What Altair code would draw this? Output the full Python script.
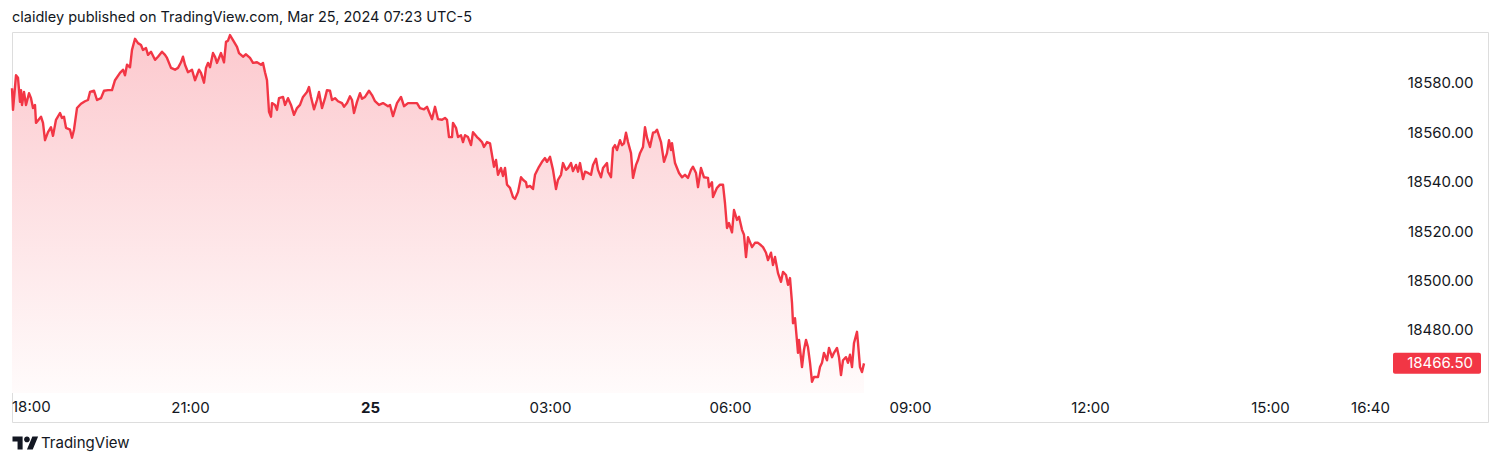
import altair as alt
import pandas as pd

# minutes after 18:00 (Sun 24 Mar 2024) and price
minutes_a = [2, 3, 6, 8, 10, 11, 12, 14, 16, 19, 21, 23, 25, 26, 30, 31, 33, 35, 38, 41, 43, 46, 50, 52, 54, 56,
             60, 62, 64, 67, 71, 75, 78, 80, 84, 87, 91, 94, 98, 102, 105, 110, 113, 115, 117, 120, 122, 125, 128,
             131, 133, 136, 138, 141, 145, 148, 152, 155, 157, 161, 165, 168, 171, 173, 175, 178, 182, 185, 189,
             191, 194, 196, 198, 200, 203, 205, 207, 211, 214, 216, 218, 220, 223, 227, 229, 233, 236, 240, 243,
             247, 251, 253, 255, 257]
prices_a = [18577.75, 18569.0, 18583.0, 18582.0, 18572.25, 18577.0, 18571.0, 18576.25, 18571.0, 18575.75, 18573.75,
            18569.75, 18571.0, 18563.75, 18565.75, 18566.25, 18563.75, 18556.75, 18560.0, 18562.0, 18558.5, 18565.0,
            18567.75, 18565.75, 18566.25, 18561.75, 18561.0, 18557.75, 18561.0, 18569.75, 18571.5, 18572.5, 18573.0,
            18576.25, 18576.75, 18573.0, 18573.75, 18576.75, 18577.0, 18577.0, 18581.0, 18584.0, 18585.25, 18583.0,
            18587.25, 18586.25, 18593.25, 18597.75, 18596.0, 18595.25, 18593.25, 18594.0, 18591.25, 18592.5,
            18589.25, 18590.5, 18592.5, 18591.25, 18590.0, 18586.0, 18585.25, 18586.0, 18588.25, 18590.5, 18587.25,
            18584.25, 18585.25, 18581.0, 18585.25, 18584.0, 18580.0, 18586.0, 18588.0, 18586.25, 18592.0, 18590.5,
            18588.0, 18592.0, 18588.25, 18596.5, 18597.0, 18599.25, 18597.25, 18594.5, 18592.0, 18590.5, 18591.5,
            18590.0, 18588.0, 18588.25, 18587.25, 18588.0, 18584.25, 18581.0]

minutes_b = [259, 261, 262, 265, 267, 269, 273, 275, 278, 281, 284, 287, 290, 293, 297, 299, 301, 304, 307, 309,
             312, 315, 317, 320, 322, 325, 328, 332, 334, 337, 340, 342, 344, 347, 350, 352, 355, 359, 362, 365,
             369, 373, 378, 380, 383, 387, 391, 394, 398, 402, 407, 410, 414, 417, 419, 422, 425, 428, 432]
prices_b = [18568.25, 18566.25, 18571.75, 18571.0, 18569.0, 18573.75, 18574.25, 18571.0, 18573.75, 18571.0,
            18567.0, 18569.75, 18571.0, 18574.25, 18576.25, 18578.25, 18574.25, 18569.25, 18573.0, 18576.25,
            18569.75, 18573.75, 18577.0, 18576.75, 18573.0, 18573.75, 18572.5, 18571.75, 18570.25, 18571.75,
            18574.5, 18573.0, 18567.75, 18572.25, 18575.75, 18573.5, 18574.25, 18576.75, 18575.0, 18572.5,
            18571.0, 18571.75, 18570.5, 18571.0, 18566.5, 18571.75, 18574.25, 18570.5, 18571.75, 18571.75,
            18571.75, 18569.75, 18569.25, 18570.25, 18568.25, 18565.25, 18570.25, 18565.25, 18565.0]

minutes_c = [435, 437, 439, 442, 443, 446, 448, 451, 453, 455, 458, 461, 463, 467, 469, 472, 474, 477, 480, 482,
             484, 486, 488, 491, 493, 495, 497, 500, 503, 505, 508, 511, 513, 516, 517, 520, 523, 525, 529, 532,
             535, 537, 540, 543, 546, 548, 551, 553, 556, 558, 561, 563, 566, 568, 570, 573, 575, 578, 581, 583,
             586, 588, 591, 593, 597, 598, 601, 603, 605, 607, 610, 612, 614, 616, 618, 621, 623, 626, 628, 630,
             633, 635, 637, 640, 643, 645, 647]
prices_c = [18565.75, 18565.0, 18558.0, 18558.0, 18563.75, 18561.75, 18558.0, 18558.75, 18556.0, 18558.75,
            18558.0, 18554.75, 18560.0, 18558.0, 18557.25, 18556.0, 18554.0, 18556.0, 18555.5, 18550.75, 18546.0,
            18548.75, 18542.75, 18545.5, 18542.25, 18545.5, 18538.75, 18537.5, 18533.75, 18533.0, 18535.75,
            18541.75, 18540.75, 18539.75, 18537.75, 18538.25, 18537.0, 18542.75, 18546.0, 18548.0, 18549.5,
            18548.0, 18550.0, 18544.75, 18537.0, 18540.75, 18542.75, 18547.5, 18544.75, 18545.5, 18547.5,
            18544.25, 18546.75, 18544.0, 18547.5, 18541.0, 18544.0, 18543.5, 18542.75, 18546.75, 18549.25,
            18544.75, 18541.75, 18545.5, 18547.5, 18544.0, 18541.75, 18553.5, 18554.75, 18552.75, 18556.75,
            18554.75, 18555.5, 18559.75, 18556.0, 18551.5, 18541.5, 18546.75, 18548.75, 18551.5, 18554.0,
            18562.0, 18557.75, 18554.0, 18559.75, 18560.0, 18561.0]

minutes_d = [651, 654, 657, 659, 661, 662, 665, 667, 669, 672, 675, 678, 681, 683, 686, 688, 691, 694, 698, 699,
             702, 703, 707, 710, 713, 715, 717, 719, 722, 724, 727, 729, 732, 734, 736, 738, 742, 745, 748, 751,
             753, 756, 758, 761, 763, 765, 768, 771, 773, 776, 778, 780, 782, 783, 785, 788, 789, 792, 794, 796,
             798, 800, 802, 804, 808, 810, 812, 814, 817, 819, 822, 824, 827, 829, 831, 833, 836, 838, 840, 842,
             844, 847, 848, 850, 852, 854]
prices_d = [18556.0, 18548.0, 18551.5, 18556.75, 18552.75, 18555.5, 18547.5, 18545.5, 18543.5, 18541.75, 18542.75,
            18541.5, 18544.75, 18546.0, 18543.5, 18537.75, 18545.5, 18541.75, 18541.5, 18537.75, 18539.75,
            18533.75, 18537.5, 18538.75, 18538.75, 18531.25, 18521.25, 18523.25, 18519.5, 18528.5, 18524.5,
            18525.75, 18520.5, 18518.5, 18509.5, 18517.5, 18513.5, 18515.25, 18515.25, 18514.25, 18513.5,
            18511.25, 18508.25, 18511.25, 18506.25, 18509.5, 18503.0, 18499.5, 18503.5, 18502.25, 18498.25,
            18501.0, 18491.0, 18482.75, 18484.75, 18470.75, 18476.0, 18465.0, 18472.0, 18476.0, 18473.0,
            18466.75, 18459.0, 18461.0, 18461.0, 18465.0, 18466.75, 18470.75, 18467.75, 18472.75, 18469.0,
            18470.75, 18472.75, 18469.0, 18461.75, 18467.75, 18469.0, 18466.75, 18470.0, 18465.0, 18474.75,
            18479.25, 18474.75, 18465.0, 18463.0, 18466.5]

price_ticks = [18480, 18500, 18520, 18540, 18560, 18580]
header = "claidley published on TradingView.com, Mar 25, 2024 07:23 UTC-5"
brand = "TradingView"
first_time_label = "18:00"
pane_floor = 18454.5  # price level at the bottom edge of the price pane

minutes = minutes_a + minutes_b + minutes_c + minutes_d
prices = prices_a + prices_b + prices_c + prices_d
base = pd.Timestamp("2024-03-24 18:00")
times = (base + pd.to_timedelta(minutes, unit="m")).strftime("%Y-%m-%dT%H:%M:00Z")
df = pd.DataFrame({"t": times, "price": prices})

last = pd.DataFrame({"price": [prices[-1]], "label": [f"{prices[-1]:.2f}"]})
foot = pd.DataFrame({"label": [brand]})
head = pd.DataFrame({"label": [header]})
first = pd.DataFrame({"t": ["2024-03-24T18:00:00Z"], "label": [first_time_label]})

FONT = "Inter"
TXT = "#131722"
RED = "#f23645"

def dt(d, h, m=0):
    return alt.DateTime(year=2024, month=3, date=d, hours=h, minutes=m, utc=True)

xscale = alt.Scale(type="utc", domain=[dt(24, 18, 2), dt(25, 18, 38)])
yscale = alt.Scale(domain=[18442.79, 18600.5], zero=False, nice=False)

tick_vals = [dt(24, 21), dt(25, 0), dt(25, 3), dt(25, 6), dt(25, 9),
             dt(25, 12), dt(25, 15), dt(25, 16, 40)]

xaxis = alt.Axis(
    values=tick_vals, orient="bottom", offset=-29, domain=False, ticks=False, tickSize=0, grid=False,
    labelPadding=14, labelBaseline="middle", labelOverlap=False,
    labelExpr="utcFormat(datum.value, '%H:%M') == '00:00' ? '25' : utcFormat(datum.value, '%H:%M')",
    labelFontWeight={"condition": {"test": "utchours(datum.value) == 0", "value": "bold"}, "value": "normal"},
    labelFont=FONT, labelFontSize=15, labelColor=TXT, title=None,
)
yaxis = alt.Axis(
    values=price_ticks, orient="right", offset=-100, domain=False, ticks=False, tickSize=0, grid=False,
    labelAlign="right", labelPadding=85, format=".2f", labelFont=FONT, labelFontSize=15,
    labelColor=TXT, title=None,
)

grad = alt.Gradient(
    gradient="linear",
    stops=[alt.GradientStop(color="#fcc9ce", offset=0),
           alt.GradientStop(color="#fffbfb", offset=1)],
    x1=0, x2=0, y1=0, y2=1,
)

area = alt.Chart(df).mark_area(fill=grad, interpolate="linear").encode(
    x=alt.X("t:T", scale=xscale, axis=xaxis),
    y=alt.Y("price:Q", scale=yscale, axis=yaxis),
    y2=alt.datum(pane_floor),
)
line = alt.Chart(df).mark_line(color=RED, strokeWidth=2.4, strokeJoin="round").encode(
    x=alt.X("t:T", scale=xscale),
    y=alt.Y("price:Q", scale=yscale),
)
first_lbl = alt.Chart(first).mark_text(align="left", baseline="middle", dx=2, color=TXT, font=FONT,
                                       fontSize=15).encode(
    x=alt.X("t:T", scale=xscale),
    y=alt.value(375),
    text="label:N",
)
badge = alt.Chart(last).mark_rect(width=88, height=21, cornerRadius=2, color=RED).encode(
    x=alt.value(1425),
    y=alt.Y("price:Q", scale=yscale),
)
badge_txt = alt.Chart(last).mark_text(align="right", baseline="middle", color="white",
                                      font=FONT, fontSize=15).encode(
    x=alt.value(1461),
    y=alt.Y("price:Q", scale=yscale),
    text="label:N",
)
logo_path = ("M -1 -0.5 L -0.222 -0.5 L -0.222 0.5 L -0.611 0.5 L -0.611 -0.111 L -1 -0.111 Z "
             "M 0.111 -0.5 A 0.222 0.222 0 1 1 0.111 -0.056 A 0.222 0.222 0 1 1 0.111 -0.5 Z "
             "M 0.111 0.5 L 0.528 -0.5 L 0.972 -0.5 L 0.556 0.5 Z")
logo = alt.Chart(foot).mark_point(shape=logo_path, filled=True, color=TXT, opacity=1, size=676,
                                  strokeWidth=0).encode(
    x=alt.value(13.5), y=alt.value(411),
)
brand_txt = alt.Chart(foot).mark_text(align="left", baseline="middle", color=TXT, font=FONT,
                                      fontSize=15).encode(
    x=alt.value(29), y=alt.value(411), text="label:N",
)
head_txt = alt.Chart(head).mark_text(align="left", baseline="alphabetic", color=TXT, font=FONT,
                                     fontSize=14.5).encode(
    x=alt.value(0), y=alt.value(-10), text="label:N",
)

chart = alt.layer(area, line, first_lbl, badge, badge_txt, logo, brand_txt, head_txt).properties(
    width=1476, height=390,
    padding={"left": 4, "top": 24, "right": 4, "bottom": 36},
    autosize=alt.AutoSizeParams(type="none"),
).configure_view(stroke="#e0e3eb", strokeWidth=1).configure(background="white")

chart.save("out.html", embed_options={"renderer": "svg", "actions": False})
